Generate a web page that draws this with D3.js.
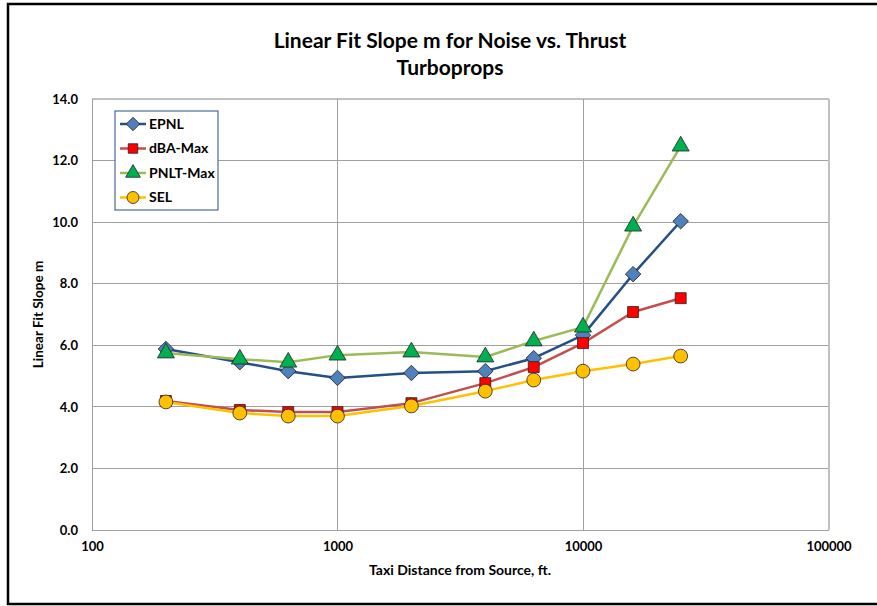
<!DOCTYPE html>
<html>
<head>
<meta charset="utf-8">
<script src="https://cdn.jsdelivr.net/npm/d3@7"></script>
<style>
  body { margin: 0; background: #fff; }
  svg { display: block; font-family: Lato, "Open Sans", sans-serif; }
</style>
</head>
<body>
<script>
// chart data
const distances = [200, 400, 630, 1000, 2000, 4000, 6300, 10000, 16000, 25000]
const epnl = [5.88, 5.45, 5.16, 4.94, 5.10, 5.16, 5.58, 6.33, 8.31, 10.03]
const dbaMax = [4.19, 3.90, 3.83, 3.83, 4.12, 4.77, 5.29, 6.07, 7.08, 7.53]
const pnltMax = [5.75, 5.55, 5.45, 5.68, 5.78, 5.62, 6.14, 6.59, 9.87, 12.47]
const sel = [4.16, 3.80, 3.70, 3.70, 4.03, 4.51, 4.87, 5.16, 5.39, 5.65]
const seriesNames = ["EPNL", "dBA-Max", "PNLT-Max", "SEL"]
const xTicks = [100, 1000, 10000, 100000]
const yTicks = [0, 2, 4, 6, 8, 10, 12, 14]

const width = 877
const height = 606
const margin = { top: 99, left: 92, right: 48.5, bottom: 76 }

const series = [
  { name: seriesNames[0], values: epnl, line: "#254f86", fill: "#4f81bd", shape: d3.symbolDiamond, size: 120 },
  { name: seriesNames[1], values: dbaMax, line: "#c0504d", fill: "#ff0000", shape: d3.symbolSquare, size: 120 },
  { name: seriesNames[2], values: pnltMax, line: "#9bbb59", fill: "#00b050", shape: d3.symbolTriangle, size: 125 },
  { name: seriesNames[3], values: sel, line: "#ffc000", fill: "#ffc000", shape: d3.symbolCircle, size: 150 },
]

const svg = d3.select("body").append("svg")
  .attr("width", width)
  .attr("height", height)

// outer frame
svg.append("rect")
  .attr("x", 8).attr("y", 4)
  .attr("width", width + 10).attr("height", 600)
  .attr("fill", "#fff")
  .attr("stroke", "#000")
  .attr("stroke-width", 2.5)

const x = d3.scaleLog().domain([100, 100000]).range([margin.left, width - margin.right])
const y = d3.scaleLinear().domain([0, 14]).range([height - margin.bottom, margin.top])

// grid
svg.append("g")
  .selectAll("line")
  .data(yTicks)
  .join("line")
  .attr("x1", x(100)).attr("x2", x(100000))
  .attr("y1", d => y(d)).attr("y2", d => y(d))
  .attr("stroke", d => d === 14 ? "#c0c0c0" : "#a0a0a0")
  .attr("stroke-width", d => d === 14 ? 2 : 1)
  .attr("shape-rendering", "crispEdges")

svg.append("g")
  .selectAll("line")
  .data(xTicks)
  .join("line")
  .attr("x1", d => x(d)).attr("x2", d => x(d))
  .attr("y1", y(0)).attr("y2", y(14))
  .attr("stroke", d => d === 100000 ? "#c0c0c0" : "#a0a0a0")
  .attr("stroke-width", d => d === 100000 ? 2 : 1)
  .attr("shape-rendering", "crispEdges")

// axes labels
const yAxis = svg.append("g")
  .attr("transform", `translate(${margin.left},0)`)
  .call(d3.axisLeft(y).tickValues(yTicks).tickFormat(d3.format(".1f")).tickSize(0).tickPadding(14))
yAxis.select(".domain").remove()
yAxis.selectAll("text")
  .attr("font-family", "Lato, sans-serif")
  .attr("font-size", 13).attr("font-weight", "bold").attr("fill", "#000")

const xAxis = svg.append("g")
  .attr("transform", `translate(0,${y(0)})`)
  .call(d3.axisBottom(x).tickValues(xTicks).tickFormat(d3.format("d")).tickSize(0).tickPadding(12))
xAxis.select(".domain").remove()
xAxis.selectAll("text")
  .attr("font-family", "Lato, sans-serif")
  .attr("font-size", 13).attr("font-weight", "bold").attr("fill", "#000")

// lines and markers
const line = d3.line()
  .x((d, i) => x(distances[i]))
  .y(d => y(d))

series.forEach(function(s) {
  svg.append("path")
    .datum(s.values)
    .attr("fill", "none")
    .attr("stroke", s.line)
    .attr("stroke-width", 2.5)
    .attr("stroke-linejoin", "round")
    .attr("d", line)
})

series.forEach(function(s) {
  svg.append("g")
    .selectAll("path")
    .data(s.values)
    .join("path")
    .attr("transform", (d, i) => `translate(${x(distances[i])},${y(d)})` + (s.shape === d3.symbolDiamond ? " rotate(45)" : ""))
    .attr("d", d3.symbol(s.shape === d3.symbolDiamond ? d3.symbolSquare : s.shape, s.size))
    .attr("fill", s.fill)
    .attr("stroke", "#222")
    .attr("stroke-width", 0.8)
})

// titles
svg.append("text")
  .attr("x", 450).attr("y", 48)
  .attr("text-anchor", "middle")
  .attr("font-size", 21).attr("font-weight", "bold")
  .text("Linear Fit Slope m for Noise vs. Thrust")
svg.append("text")
  .attr("x", 450).attr("y", 75)
  .attr("text-anchor", "middle")
  .attr("font-size", 21).attr("font-weight", "bold")
  .text("Turboprops")

svg.append("text")
  .attr("transform", `translate(43,${(y(0) + y(14)) / 2}) rotate(-90)`)
  .attr("text-anchor", "middle")
  .attr("font-size", 13.5).attr("font-weight", "bold")
  .text("Linear Fit Slope m")

svg.append("text")
  .attr("x", 460).attr("y", 575)
  .attr("text-anchor", "middle")
  .attr("font-size", 14).attr("font-weight", "bold")
  .text("Taxi Distance from Source, ft.")

// legend
const legend = svg.append("g").attr("transform", "translate(115,111)")
legend.append("rect")
  .attr("width", 103).attr("height", 99)
  .attr("fill", "#fff")
  .attr("stroke", "#4a6a9a")
  .attr("stroke-width", 1.2)

const item = legend.selectAll("g.item")
  .data(series)
  .join("g")
  .attr("class", "item")
  .attr("transform", (d, i) => `translate(0,${13 + i * 24.5})`)

item.append("line")
  .attr("x1", 5).attr("x2", 31)
  .attr("stroke", d => d.line)
  .attr("stroke-width", 2.5)
item.append("path")
  .attr("transform", d => "translate(18,0)" + (d.shape === d3.symbolDiamond ? " rotate(45)" : ""))
  .attr("d", d => d3.symbol(d.shape === d3.symbolDiamond ? d3.symbolSquare : d.shape, d.size * 0.75)())
  .attr("fill", d => d.fill)
  .attr("stroke", "#222")
  .attr("stroke-width", 0.8)
item.append("text")
  .attr("x", 34).attr("dy", "0.35em")
  .attr("font-size", 14).attr("font-weight", "bold")
  .text(d => d.name)
</script>
</body>
</html>
